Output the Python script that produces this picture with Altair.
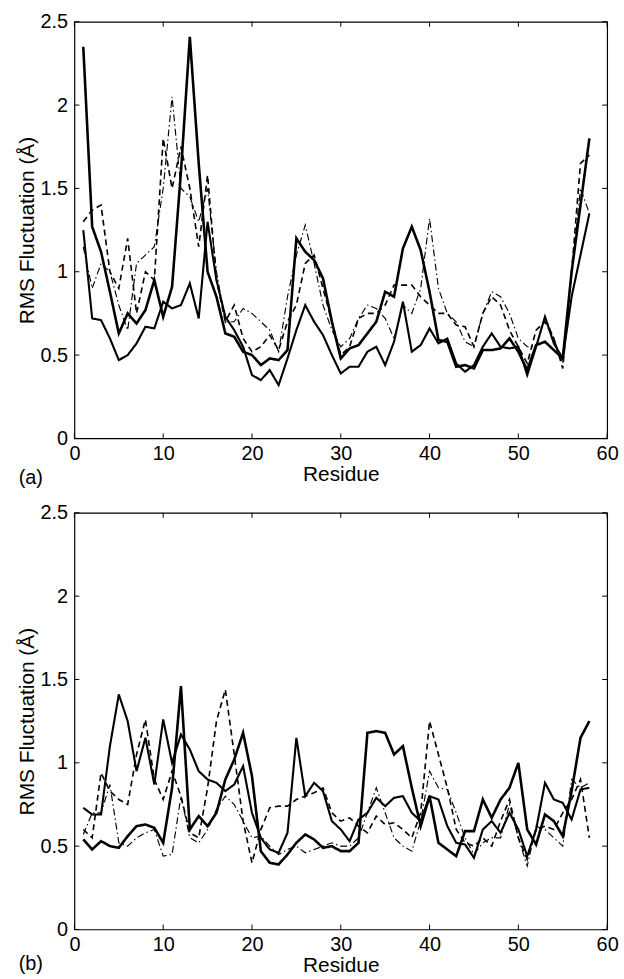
import altair as alt
import pandas as pd

residues = list(range(1, 59))

a_thick = [2.35, 1.27, 1.12, 0.88, 0.63, 0.75, 0.69, 0.77, 0.95, 0.73,
           0.91, 1.60, 2.41, 1.65, 1.00, 0.85, 0.63, 0.61, 0.52, 0.50,
           0.44, 0.48, 0.47, 0.53, 1.20, 1.12, 1.07, 0.96, 0.70, 0.48,
           0.54, 0.56, 0.63, 0.70, 0.88, 0.85, 1.14, 1.27, 1.13, 0.88,
           0.59, 0.58, 0.43, 0.44, 0.42, 0.53, 0.53, 0.54, 0.60, 0.52,
           0.41, 0.56, 0.58, 0.53, 0.48, 1.00, 1.40, 1.80]
a_thin = [1.25, 0.72, 0.71, 0.60, 0.47, 0.50, 0.57, 0.67, 0.66, 0.82,
          0.78, 0.80, 0.93, 0.72, 1.30, 0.95, 0.73, 0.65, 0.55, 0.38,
          0.35, 0.41, 0.32, 0.48, 0.65, 0.80, 0.70, 0.62, 0.50, 0.39,
          0.43, 0.43, 0.52, 0.55, 0.44, 0.58, 0.82, 0.52, 0.56, 0.66,
          0.57, 0.60, 0.45, 0.40, 0.44, 0.55, 0.63, 0.55, 0.54, 0.55,
          0.38, 0.55, 0.73, 0.57, 0.48, 0.85, 1.10, 1.35]
a_dash = [1.30, 1.37, 1.40, 1.00, 0.90, 1.20, 0.75, 1.00, 0.95, 1.80,
          1.50, 1.75, 1.50, 1.15, 1.58, 0.95, 0.70, 0.80, 0.60, 0.52,
          0.55, 0.62, 0.53, 0.70, 0.80, 1.05, 1.10, 0.90, 0.70, 0.50,
          0.55, 0.72, 0.75, 0.75, 0.80, 0.92, 0.92, 0.92, 0.85, 0.80,
          0.75, 0.75, 0.68, 0.67, 0.55, 0.75, 0.85, 0.80, 0.65, 0.55,
          0.45, 0.65, 0.70, 0.60, 0.42, 1.00, 1.65, 1.70]
a_dashdot = [1.15, 0.90, 1.05, 1.00, 0.80, 0.65, 1.05, 1.10, 1.15, 1.50,
             2.05, 1.50, 1.45, 1.30, 1.50, 1.00, 0.70, 0.70, 0.78, 0.75,
             0.70, 0.65, 0.52, 0.85, 1.10, 1.28, 1.05, 0.80, 0.65, 0.55,
             0.60, 0.72, 0.80, 0.78, 0.72, 0.60, 0.80, 0.75, 0.90, 1.32,
             0.90, 0.75, 0.70, 0.58, 0.55, 0.75, 0.88, 0.85, 0.75, 0.60,
             0.55, 0.55, 0.73, 0.60, 0.45, 1.00, 1.50, 1.35]

b_thick = [0.54, 0.48, 0.53, 0.50, 0.49, 0.56, 0.62, 0.63, 0.61, 0.52,
           0.85, 1.46, 0.60, 0.68, 0.62, 0.70, 0.90, 1.02, 1.18, 0.92,
           0.47, 0.40, 0.39, 0.45, 0.52, 0.57, 0.54, 0.49, 0.50, 0.47,
           0.47, 0.52, 1.18, 1.19, 1.18, 1.05, 1.10, 0.85, 0.62, 0.80,
           0.52, 0.48, 0.44, 0.59, 0.59, 0.78, 0.67, 0.78, 0.85, 1.00,
           0.60, 0.51, 0.69, 0.65, 0.56, 0.83, 1.15, 1.25]
b_thin = [0.73, 0.69, 0.69, 1.10, 1.41, 1.25, 0.95, 1.15, 0.87, 1.26,
          1.00, 1.17, 1.08, 0.95, 0.90, 0.88, 0.83, 0.87, 0.98, 0.70,
          0.55, 0.48, 0.46, 0.58, 1.15, 0.80, 0.88, 0.83, 0.65, 0.60,
          0.53, 0.66, 0.70, 0.79, 0.74, 0.79, 0.80, 0.70, 0.65, 0.80,
          0.78, 0.62, 0.52, 0.51, 0.43, 0.60, 0.65, 0.58, 0.70, 0.60,
          0.44, 0.60, 0.88, 0.78, 0.76, 0.66, 0.84, 0.85]
b_dash = [0.60, 0.55, 0.94, 0.83, 0.78, 0.75, 1.05, 1.26, 0.90, 0.78,
          0.95, 0.80, 0.58, 0.55, 0.85, 1.25, 1.44, 1.05, 0.65, 0.40,
          0.60, 0.73, 0.74, 0.74, 0.78, 0.80, 0.82, 0.85, 0.70, 0.65,
          0.67, 0.62, 0.58, 0.68, 0.63, 0.64, 0.60, 0.55, 0.70, 1.25,
          1.05, 0.85, 0.60, 0.52, 0.50, 0.55, 0.50, 0.65, 0.78, 0.55,
          0.42, 0.60, 0.62, 0.60, 0.70, 0.78, 0.90, 0.55]
b_dashdot = [0.57, 0.70, 0.70, 0.87, 0.52, 0.50, 0.55, 0.58, 0.60, 0.44,
             0.45, 0.80, 0.55, 0.52, 0.60, 0.72, 0.80, 0.75, 0.65, 0.55,
             0.56, 0.50, 0.45, 0.48, 0.50, 0.46, 0.48, 0.50, 0.52, 0.50,
             0.50, 0.55, 0.70, 0.85, 0.70, 0.55, 0.50, 0.47, 0.65, 0.95,
             0.85, 0.84, 0.70, 0.55, 0.45, 0.52, 0.55, 0.55, 0.75, 0.55,
             0.38, 0.62, 0.60, 0.55, 0.50, 0.90, 0.85, 0.88]

series_names = ["thick", "thin", "dashed", "dashdot"]
x_ticks = [0, 10, 20, 30, 40, 50, 60]
y_ticks = [0, 0.5, 1, 1.5, 2, 2.5]

W, H = 537, 420
FONT = "Liberation Sans"

xscale = alt.Scale(domain=[0, 60], nice=False, zero=False)
yscale = alt.Scale(domain=[0, 2.5], nice=False, zero=False)

xaxis = alt.Axis(values=x_ticks, ticks=False, domain=False, grid=False,
                 labelFont=FONT, labelFontSize=20, labelColor="black",
                 labelPadding=5, labelFlush=False, labelAngle=0,
                 title="Residue", titleFont=FONT, titleFontSize=21,
                 titleFontWeight="normal", titleColor="black", titlePadding=0)
yaxis = alt.Axis(values=y_ticks, ticks=False, domain=False, grid=False,
                 format=".1~f",
                 labelFont=FONT, labelFontSize=20, labelColor="black",
                 labelPadding=7, labelFlush=False,
                 title="RMS Fluctuation (Å)", titleFont=FONT, titleFontSize=21,
                 titleFontWeight="normal", titleColor="black", titlePadding=2)


def panel(thick, thin, dash, dashdot, tag, tag_dy):
    df = pd.DataFrame({
        "Residue": residues * 4,
        "RMS": thick + thin + dash + dashdot,
        "series": sum([[s] * len(residues) for s in series_names], []),
    })
    lines = alt.Chart(df).mark_line(color="black", clip=True).encode(
        x=alt.X("Residue:Q", scale=xscale, axis=xaxis),
        y=alt.Y("RMS:Q", scale=yscale, axis=yaxis),
        strokeDash=alt.StrokeDash("series:N", legend=None,
                                  scale=alt.Scale(domain=series_names,
                                                  range=[[1, 0], [1, 0], [6, 4], [7, 3, 1.5, 3]])),
        strokeWidth=alt.StrokeWidth("series:N", legend=None,
                                    scale=alt.Scale(domain=series_names,
                                                    range=[2.6, 1.15, 1.1, 1.1])),
    )
    xt = pd.DataFrame({"Residue": x_ticks})
    yt = pd.DataFrame({"RMS": y_ticks})
    tb = alt.Chart(xt).mark_rule(color="black", strokeWidth=1).encode(
        x=alt.X("Residue:Q", scale=xscale, axis=xaxis),
        y=alt.value(H), y2=alt.value(H - 5))
    tt = alt.Chart(xt).mark_rule(color="black", strokeWidth=1).encode(
        x=alt.X("Residue:Q", scale=xscale, axis=xaxis),
        y=alt.value(0), y2=alt.value(5))
    tl = alt.Chart(yt).mark_rule(color="black", strokeWidth=1).encode(
        y=alt.Y("RMS:Q", scale=yscale, axis=yaxis),
        x=alt.value(0), x2=alt.value(5))
    tr = alt.Chart(yt).mark_rule(color="black", strokeWidth=1).encode(
        y=alt.Y("RMS:Q", scale=yscale, axis=yaxis),
        x=alt.value(W), x2=alt.value(W - 5))
    lab = alt.Chart(pd.DataFrame({"tag": [tag]})).mark_text(
        font=FONT, fontSize=20, align="center", baseline="middle", color="black"
    ).encode(text="tag:N", x=alt.value(-44), y=alt.value(H + tag_dy))
    return alt.layer(lines, tb, tt, tl, tr, lab).properties(width=W, height=H)


chart = alt.vconcat(
    panel(a_thick, a_thin, a_dash, a_dashdot, "(a)", 40),
    panel(b_thick, b_thin, b_dash, b_dashdot, "(b)", 35),
    spacing=13,
).properties(
    padding={"left": 16, "top": 7, "right": 5, "bottom": 0},
    background="white",
).configure_view(stroke="black", strokeWidth=1.2)

chart.save("out.html", embed_options={"renderer": "svg", "actions": False})
